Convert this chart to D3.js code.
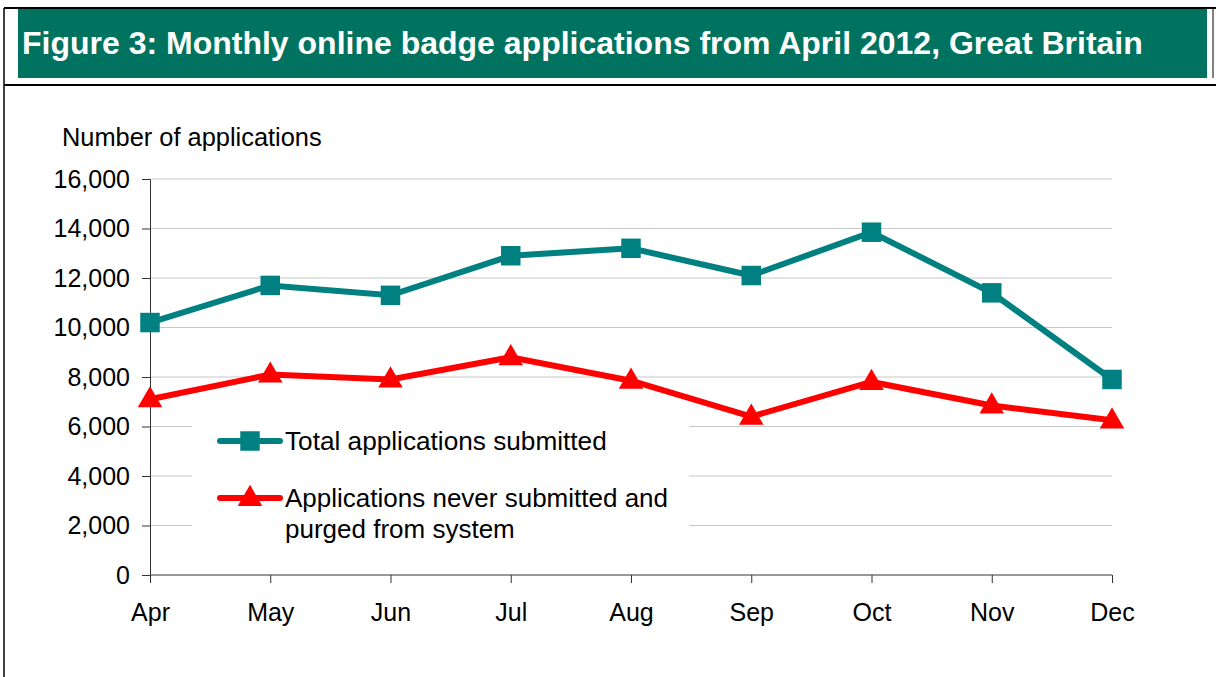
<!DOCTYPE html>
<html>
<head>
<meta charset="utf-8">
<script src="https://d3js.org/d3.v7.min.js"></script>
<style>
  body { margin: 0; background: #fff; }
  text { font-family: "Liberation Sans", Arial, sans-serif; }
</style>
</head>
<body>
<div id="chart"></div>
<script>
var w = 1216;
var h = 677;

// values
var months = ["Apr", "May", "Jun", "Jul", "Aug", "Sep", "Oct", "Nov", "Dec"];
var totalSubmitted = [10200, 11700, 11300, 12900, 13200, 12100, 13850, 11400, 7900];
var neverSubmitted = [7100, 8100, 7900, 8800, 7850, 6400, 7800, 6850, 6250];
var yTicks = [0, 2000, 4000, 6000, 8000, 10000, 12000, 14000, 16000];

var svg = d3.select("#chart").append("svg")
            .attr("width", w)
            .attr("height", h);

// frame + header
svg.append("line").attr("x1", 4).attr("x2", w).attr("y1", 8).attr("y2", 8)
   .attr("stroke", "#000").attr("stroke-width", 2);
svg.append("line").attr("x1", 4).attr("x2", w).attr("y1", 85).attr("y2", 85)
   .attr("stroke", "#000").attr("stroke-width", 2);
svg.append("line").attr("x1", 4).attr("x2", 4).attr("y1", 8).attr("y2", h)
   .attr("stroke", "#000").attr("stroke-width", 1.5);
svg.append("line").attr("x1", 1213).attr("x2", 1213).attr("y1", 8).attr("y2", 78)
   .attr("stroke", "#000").attr("stroke-width", 1);

svg.append("rect")
   .attr("x", 18).attr("y", 9)
   .attr("width", 1189).attr("height", 69)
   .attr("fill", "#007260");

svg.append("text")
   .attr("x", 22).attr("y", 54)
   .attr("fill", "#fff")
   .style("font-size", "32px")
   .style("font-weight", "bold")
   .text("Figure 3: Monthly online badge applications from April 2012, Great Britain");

// scales
var x = d3.scalePoint().domain(months).range([150, 1112]);
var y = d3.scaleLinear().domain([0, 16000]).range([575, 179]);

// gridlines
svg.selectAll("line.grid")
   .data(yTicks.slice(1))
   .enter()
   .append("line")
   .attr("class", "grid")
   .attr("x1", 150).attr("x2", 1112)
   .attr("y1", function(d) { return y(d); })
   .attr("y2", function(d) { return y(d); })
   .attr("stroke", "#c8c8c8")
   .attr("stroke-width", 1);

// legend box sits over the gridlines
svg.append("rect")
   .attr("x", 192).attr("y", 412)
   .attr("width", 497).attr("height", 150)
   .attr("fill", "#fff");

// y axis
var yAxis = svg.append("g")
   .attr("transform", "translate(150,0)")
   .call(d3.axisLeft(y).tickValues(yTicks).tickSize(8).tickPadding(12)
           .tickFormat(d3.format(",")));
yAxis.select(".domain").attr("stroke", "#333");
yAxis.selectAll(".tick line").attr("stroke", "#333");
yAxis.selectAll("text").style("font-size", "25px").attr("fill", "#000")
     .style("font-family", "'Liberation Sans', Arial, sans-serif");

// x axis
var xAxis = svg.append("g")
   .attr("transform", "translate(0,575)")
   .call(d3.axisBottom(x).tickSize(8).tickSizeOuter(0).tickPadding(20));
xAxis.select(".domain").attr("stroke", "#333").attr("d", "M150,0H1112");
xAxis.selectAll(".tick line").attr("stroke", "#333");
xAxis.selectAll("text").style("font-size", "25px").attr("fill", "#000")
     .style("font-family", "'Liberation Sans', Arial, sans-serif");

svg.append("text")
   .attr("x", 62).attr("y", 146)
   .style("font-size", "25.4px")
   .text("Number of applications");

// lines
var line = d3.line()
             .x(function(d, i) { return x(months[i]); })
             .y(function(d) { return y(d); });

svg.append("path")
   .datum(totalSubmitted)
   .attr("d", line)
   .attr("fill", "none")
   .attr("stroke", "#008080")
   .attr("stroke-width", 6);

svg.append("path")
   .datum(neverSubmitted)
   .attr("d", line)
   .attr("fill", "none")
   .attr("stroke", "#ff0000")
   .attr("stroke-width", 6);

var square = d3.symbol().type(d3.symbolSquare).size(380);
var triangle = d3.symbol().type(d3.symbolTriangle).size(260);

svg.selectAll("path.sq")
   .data(totalSubmitted)
   .enter()
   .append("path")
   .attr("class", "sq")
   .attr("d", square)
   .attr("transform", function(d, i) { return "translate(" + x(months[i]) + "," + y(d) + ")"; })
   .attr("fill", "#008080");

svg.selectAll("path.tri")
   .data(neverSubmitted)
   .enter()
   .append("path")
   .attr("class", "tri")
   .attr("d", triangle)
   .attr("transform", function(d, i) { return "translate(" + x(months[i]) + "," + (y(d) + 1) + ")"; })
   .attr("fill", "#ff0000");

// legend
svg.append("line").attr("x1", 220).attr("x2", 280).attr("y1", 441).attr("y2", 441)
   .attr("stroke", "#008080").attr("stroke-width", 6).attr("stroke-linecap", "round");
svg.append("path").attr("d", square).attr("transform", "translate(250,441)").attr("fill", "#008080");
svg.append("text").attr("x", 285).attr("y", 450).style("font-size", "26.2px")
   .text("Total applications submitted");

svg.append("line").attr("x1", 220).attr("x2", 280).attr("y1", 498).attr("y2", 498)
   .attr("stroke", "#ff0000").attr("stroke-width", 6).attr("stroke-linecap", "round");
svg.append("path").attr("d", triangle).attr("transform", "translate(250,499)").attr("fill", "#ff0000");
svg.append("text").attr("x", 285).attr("y", 507).style("font-size", "26px")
   .text("Applications never submitted and");
svg.append("text").attr("x", 285).attr("y", 538).style("font-size", "26px")
   .text("purged from system");
</script>
</body>
</html>
